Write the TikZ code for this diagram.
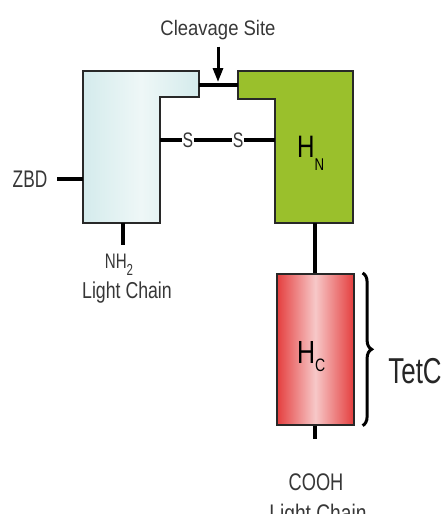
\documentclass[tikz,border=0pt]{standalone}
\usepackage{fontspec}
\setmainfont{Liberation Sans}
\usepackage{graphicx}
\usepackage{xcolor}
\usetikzlibrary{positioning, calc, arrows.meta, decorations.pathreplacing}
\definecolor{LightFill}{RGB}{212,235,236}
\definecolor{LightMid}{RGB}{238,247,247}
\definecolor{HnFill}{RGB}{154,192,44}
\definecolor{HcEdge}{RGB}{228,62,62}
\definecolor{HcMid}{RGB}{247,200,200}
\definecolor{EdgeColor}{RGB}{40,40,40}
\definecolor{TextColor}{RGB}{55,55,55}
\newcommand{\squeeze}[2][0.78]{\scalebox{#1}[1]{#2}}
\tikzset{
    boxedge/.style={draw=EdgeColor, line width=1.6pt, line join=miter},
    lcbox/.style={boxedge, left color=LightFill, right color=LightFill, middle color=LightMid},
    hnbox/.style={boxedge, fill=HnFill},
    hcbox/.style={
        rectangle,
        boxedge,
        minimum width=77pt,
        minimum height=151pt,
        inner sep=0pt,
        left color=HcEdge, right color=HcEdge, middle color=HcMid
    },
    bond/.style={draw=black, line width=4pt},
    txt/.style={inner sep=0pt, text=TextColor, font=\fontsize{#1}{#1}\selectfont},
    sbond/.style={txt=21, fill=white, inner sep=0.6pt},
    cut/.style={draw=black, line width=3pt, -{Triangle[width=10pt, length=14pt]}},
    brace/.style={draw=black, line width=3pt, decorate, decoration={brace, amplitude=9pt}}
}

\begin{document}
\begin{tikzpicture}[x=1pt, y=-1pt]
\useasboundingbox (0,0) rectangle (446,514);

% Light chain outline
\coordinate (lc_nw) at (83,71);
\coordinate (lc_ne) at (199,71);
\coordinate (lc_step) at (199,97);
\coordinate (lc_in) at (160,97);
\coordinate (lc_se) at (160,223);
\coordinate (lc_sw) at (83,223);
\draw[lcbox] (lc_nw) -- (lc_ne) -- (lc_step) -- (lc_in) -- (lc_se) -- (lc_sw) -- cycle;

% H_N domain outline
\coordinate (hn_nw) at (238,71);
\coordinate (hn_ne) at (353,71);
\coordinate (hn_se) at (353,223);
\coordinate (hn_sw) at (275,223);
\coordinate (hn_in) at (275,99);
\coordinate (hn_step) at (238,99);
\draw[hnbox] (hn_nw) -- (hn_ne) -- (hn_se) -- (hn_sw) -- (hn_in) -- (hn_step) -- cycle;
\node[txt=31, text=black, anchor=base west] (hn) at (297,157)
    {\squeeze{H\raisebox{-13pt}{\fontsize{17}{17}\selectfont N}}};

% H_C domain
\node[hcbox, anchor=north west] (hc) at (276,273) {};
\node[txt=32, text=black, anchor=base west] (hc_lbl) at (297,363)
    {\squeeze{H\raisebox{-8pt}{\fontsize{18}{18}\selectfont C}}};

% Cleavage site
\coordinate (bar_l) at (199,85);
\coordinate (bar_r) at (238,85);
\draw[bond] (bar_l) -- (bar_r);
\node[txt=21, anchor=base] (cleave) at (218,35) {\squeeze[0.88]{Cleavage Site}};
\coordinate (cl_tip) at (218,82);
\draw[cut] ([yshift=-7pt]cleave.south) -- (cl_tip);

% Disulfide bridge
\coordinate (ss_l) at (160,140);
\coordinate (ss_r) at (275,140);
\node[sbond] (s1) at (188,140) {\squeeze[0.75]{S}};
\node[sbond] (s2) at (238,140) {\squeeze[0.75]{S}};
\draw[bond] (ss_l) -- (s1);
\draw[bond, line width=3.2pt] (s1) -- (s2);
\draw[bond] (s2) -- (ss_r);

% ZBD
\node[txt=24, anchor=base] (zbd) at (30,187) {\squeeze[0.72]{ZBD}};
\draw[bond] ([xshift=10pt]zbd.east) -- (zbd.east -| lc_nw);

% N-terminus
\coordinate (nh_top) at (123,223);
\node[txt=21, anchor=base] (nh2) at (119,268)
    {\squeeze[0.72]{NH\raisebox{-7pt}{\fontsize{16}{16}\selectfont 2}}};
\draw[bond] (nh_top) -- ([yshift=8pt]nh_top |- nh2.north);
\node[txt=23, anchor=base] (lc_lbl) at (127,298) {\squeeze[0.77]{Light Chain}};

% H_N to H_C
\draw[bond] (hn_sw -| hc.north) -- (hc.north);

% C-terminus
\draw[bond] (hc.south) -- ++(0,13);
\node[txt=24, anchor=base] (cooh) at (316,490) {\squeeze[0.76]{COOH}};
\node[txt=24, anchor=base] (hc_chain) at (318,521) {\squeeze[0.8]{Light Chain}};

% TetC
\draw[brace] ([xshift=8pt]hc.north east) -- ([xshift=8pt]hc.south east);
\node[txt=36, text=black!85, anchor=base] (tetc) at (415,383) {\squeeze[0.72]{TetC}};

\end{tikzpicture}
\end{document}
